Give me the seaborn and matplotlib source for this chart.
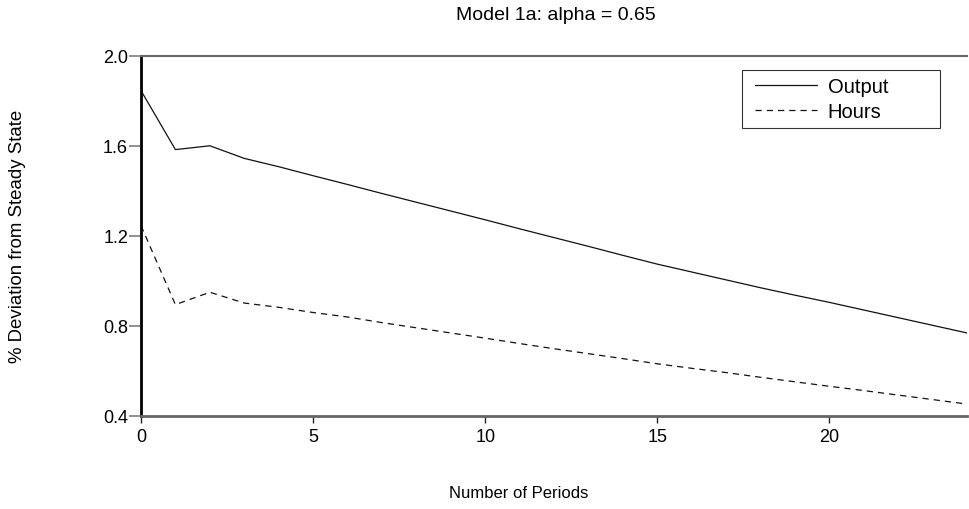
import matplotlib
matplotlib.use("Agg")
import matplotlib.pyplot as plt
import seaborn as sns
import pandas as pd
from matplotlib.legend_handler import HandlerLine2D
from matplotlib.lines import Line2D

periods = list(range(25))
output = [1.846, 1.584, 1.601, 1.545, 1.508, 1.468, 1.429, 1.389, 1.350, 1.311,
          1.272, 1.232, 1.193, 1.154, 1.114, 1.075, 1.040, 1.005, 0.970, 0.937,
          0.905, 0.871, 0.837, 0.803, 0.769]
hours = [1.246, 0.895, 0.950, 0.902, 0.883, 0.860, 0.840, 0.815, 0.792, 0.769,
         0.746, 0.722, 0.699, 0.677, 0.655, 0.632, 0.612, 0.593, 0.572, 0.552,
         0.532, 0.513, 0.493, 0.473, 0.453]
series_names = ["Output", "Hours"]
x_ticks = [0, 5, 10, 15, 20]
y_ticks = [0.4, 0.8, 1.2, 1.6, 2.0]
title = "Model 1a: alpha = 0.65"
xlabel = "Number of Periods"
ylabel = "% Deviation from Steady State"

df = pd.DataFrame({
    "period": periods * 2,
    "value": output + hours,
    "series": [series_names[0]] * len(periods) + [series_names[1]] * len(periods),
})

sns.set_theme(style="white")
plt.rcParams["font.family"] = ["Liberation Sans", "DejaVu Sans"]
plt.rcParams["text.color"] = "black"
plt.rcParams["xtick.color"] = "black"
plt.rcParams["ytick.color"] = "black"

fig = plt.figure(figsize=(9.69, 5.10), dpi=100)
ax = fig.add_axes([141 / 969, 1 - 417 / 510, 828 / 969 - 0.002, 360 / 510])

sns.lineplot(data=df, x="period", y="value", hue="series", style="series",
             palette={"Output": "#111111", "Hours": "#111111"},
             dashes={"Output": "", "Hours": (5, 4)}, linewidth=0.9, ax=ax)

ax.set_xlim(0, 24)
ax.set_ylim(0.4, 2.0)
ax.set_xticks(x_ticks)
ax.set_xticklabels([str(t) for t in x_ticks])
ax.set_yticks(y_ticks)
ax.set_yticklabels([f"{t:.1f}" for t in y_ticks])

ax.tick_params(axis="x", direction="out", length=5, width=1, color="#222222",
               labelsize=13, labelcolor="black", pad=3.5, bottom=True)
ax.tick_params(axis="y", direction="out", length=8.5, width=1.3, color="#888888",
               labelsize=13, labelcolor="black", pad=0.8, left=True)

for name, sp in ax.spines.items():
    sp.set_visible(True)
ax.spines["right"].set_visible(False)
ax.spines["left"].set_color("black")
ax.spines["left"].set_linewidth(2)
ax.spines["bottom"].set_color("#666666")
ax.spines["bottom"].set_linewidth(2)
ax.spines["top"].set_color("#666666")
ax.spines["top"].set_linewidth(1.5)

ax.set_xlabel("")
ax.set_ylabel("")
fig.text(556 / 969, 1 - 15 / 510, title, ha="center", va="center", fontsize=14)
fig.text(519 / 969, 1 - 494 / 510, xlabel, ha="center", va="center", fontsize=12)
fig.text(18 / 969, 1 - 236 / 510, ylabel, ha="center", va="center", rotation=90, fontsize=13.4)

leg_x0 = (743 - 141) / 828
leg_y1 = (417 - 71) / 360
leg_w = (942 - 743) / 828
leg_h = (128 - 71) / 360
handles, labels = ax.get_legend_handles_labels()
leg = ax.legend(handles, labels, loc="upper left",
                bbox_to_anchor=(leg_x0, leg_y1 - leg_h, leg_w, leg_h),
                mode="expand", frameon=True, fancybox=False, edgecolor="black", fontsize=14.5,
                handlelength=3.4, borderpad=0.33, labelspacing=0.33, handletextpad=0.55,
                borderaxespad=0, handler_map={Line2D: HandlerLine2D(xpad=0.35)})
leg.get_frame().set_linewidth(0.8)
leg.set_title(None)

fig.savefig("out.png", dpi=100, facecolor="white")
